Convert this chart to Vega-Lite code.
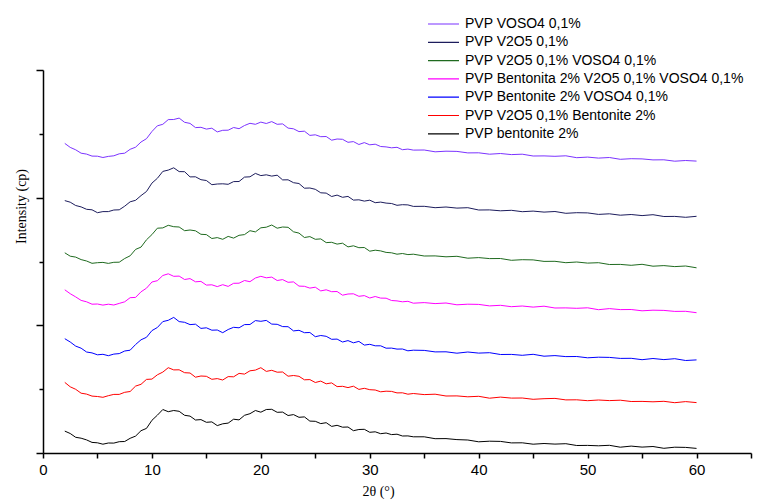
{
"$schema": "https://vega.github.io/schema/vega-lite/v6.json",
"width": 708,
"height": 383,
"autosize": {"type": "none"},
"padding": {"left": 43, "top": 70, "right": 10, "bottom": 49},
"background": "white",
"config": {"view": {"stroke": null}, "axis": {"grid": false}},
"data": {"values": [
{"x":2,"a":309.6,"b":252.4,"c":200.2,"d":163.2,"e":114.3,"f":70.6,"g":21.9},
{"x":2.5,"a":305.6,"b":250.8,"c":196.8,"d":159.3,"e":111,"f":66.2,"g":19.5},
{"x":3,"a":303.2,"b":247.5,"c":195.9,"d":156.1,"e":106.9,"f":63.7,"g":15.7},
{"x":3.5,"a":299.8,"b":246.1,"c":193.4,"d":152.6,"e":104.8,"f":59.8,"g":14.8},
{"x":4,"a":298.9,"b":243.7,"c":192,"d":151.2,"e":101,"f":58.9,"g":13.1},
{"x":4.5,"a":296.9,"b":243.2,"c":189.7,"d":148.8,"e":100.1,"f":56.9,"g":10.6},
{"x":5,"a":296.8,"b":240.3,"c":190.3,"d":149,"e":98.2,"f":56.5,"g":10.2},
{"x":5.5,"a":295.5,"b":241.4,"c":190.6,"d":147.9,"e":98.7,"f":55.7,"g":8.8},
{"x":6,"a":296.6,"b":241.4,"c":189.6,"d":148.8,"e":97.3,"f":57.3,"g":10},
{"x":6.5,"a":297.2,"b":243,"c":190.7,"d":148,"e":98.9,"f":58.6,"g":9.9},
{"x":7,"a":299.2,"b":243.2,"c":190.8,"d":149.6,"e":99.4,"f":58.6,"g":11.3},
{"x":7.5,"a":299.8,"b":246.8,"c":194.5,"d":151.2,"e":102,"f":60.7,"g":11.5},
{"x":8,"a":303.7,"b":251.2,"c":197.2,"d":155.3,"e":102.8,"f":61.5,"g":14.7},
{"x":8.5,"a":305.8,"b":252.7,"c":203.6,"d":155.6,"e":108.5,"f":66.9,"g":16.9},
{"x":9,"a":311,"b":257.4,"c":205.9,"d":161.2,"e":113.2,"f":68.7,"g":22.3},
{"x":9.5,"a":314.3,"b":261.5,"c":213.2,"d":164.8,"e":115.7,"f":73.6,"g":24.6},
{"x":10,"a":321.5,"b":269.9,"c":218.4,"d":171,"e":122.4,"f":73.9,"g":32.7},
{"x":10.5,"a":327.2,"b":274.7,"c":224.8,"d":172.3,"e":125.5,"f":78.2,"g":37.8},
{"x":11,"a":328.7,"b":281.6,"c":225.1,"d":177.5,"e":131.4,"f":80.9,"g":43.5},
{"x":11.5,"a":333.4,"b":282.9,"c":227.7,"d":179.2,"e":132.7,"f":85.3,"g":41.3},
{"x":12,"a":333.5,"b":285.2,"c":226.3,"d":176.7,"e":135.6,"f":83.1,"g":42.5},
{"x":12.5,"a":334.9,"b":281.4,"c":226,"d":176.9,"e":131.4,"f":83.2,"g":41.7},
{"x":13,"a":330.7,"b":281.3,"c":222.3,"d":173.5,"e":130.7,"f":80.3,"g":37.7},
{"x":13.5,"a":329.6,"b":276.1,"c":223,"d":174.4,"e":128.4,"f":80,"g":36.9},
{"x":14,"a":325.4,"b":276.2,"c":222.2,"d":171.2,"e":128.8,"f":75.8,"g":33},
{"x":14.5,"a":325.7,"b":273.3,"c":218.7,"d":171.6,"e":124.6,"f":77,"g":33.4},
{"x":15,"a":323.9,"b":272.5,"c":218.4,"d":167.9,"e":125.2,"f":76.7,"g":30.7},
{"x":15.5,"a":324.8,"b":268.3,"c":214.5,"d":168.2,"e":122.8,"f":73.7,"g":31.1},
{"x":16,"a":321.1,"b":269,"c":215.4,"d":166.4,"e":123,"f":74.4,"g":27.4},
{"x":16.5,"a":322.7,"b":269.2,"c":213.7,"d":168.3,"e":120.3,"f":73,"g":29.2},
{"x":17,"a":322.8,"b":268.7,"c":216.6,"d":166.6,"e":123.5,"f":76.4,"g":29.9},
{"x":17.5,"a":325.5,"b":271.4,"c":214.9,"d":169.7,"e":125.7,"f":76.2,"g":33.8},
{"x":18,"a":324.3,"b":271.5,"c":217.7,"d":169.8,"e":125.2,"f":79.6,"g":33.1},
{"x":18.5,"a":327.5,"b":275.9,"c":218.4,"d":172.5,"e":128.4,"f":78.9,"g":37.7},
{"x":19,"a":329.7,"b":276.2,"c":222.3,"d":171.3,"e":128.5,"f":82.2,"g":39.3},
{"x":19.5,"a":328.7,"b":279.6,"c":221.1,"d":175,"e":132.4,"f":82.9,"g":42.5},
{"x":20,"a":330.9,"b":277.4,"c":225.2,"d":176.7,"e":131.7,"f":85.3,"g":40.8},
{"x":20.5,"a":329.5,"b":278.2,"c":225.8,"d":175.2,"e":132.6,"f":81.6,"g":43.5},
{"x":21,"a":331.4,"b":276.9,"c":228,"d":175.9,"e":128.9,"f":82.7,"g":43.7},
{"x":21.5,"a":328.7,"b":277.8,"c":224.8,"d":172.5,"e":128.7,"f":80.8,"g":40.7},
{"x":22,"a":329.1,"b":273.1,"c":226,"d":173.4,"e":126.4,"f":81,"g":40.9},
{"x":22.5,"a":324.9,"b":273.2,"c":225.7,"d":170.7,"e":126.3,"f":76.8,"g":37.5},
{"x":23,"a":324.2,"b":270.3,"c":221.2,"d":171.1,"e":122.1,"f":77.5,"g":38.4},
{"x":23.5,"a":321.4,"b":269.5,"c":219.9,"d":166.9,"e":122.7,"f":76.7,"g":35.7},
{"x":24,"a":321.8,"b":264.8,"c":215.5,"d":166.7,"e":120.3,"f":73.2,"g":36.1},
{"x":24.5,"a":317.6,"b":265,"c":216.4,"d":164.9,"e":120.5,"f":73.4,"g":31.9},
{"x":25,"a":318.2,"b":263.7,"c":213.7,"d":165.8,"e":116.3,"f":70.5,"g":31.7},
{"x":25.5,"a":316.3,"b":260.2,"c":214.1,"d":162.1,"e":117.5,"f":71.9,"g":29.4},
{"x":26,"a":316.5,"b":259.9,"c":210.4,"d":163.2,"e":116.7,"f":69.2,"g":30.3},
{"x":26.5,"a":312.8,"b":256.5,"c":210.7,"d":161.3,"e":113.7,"f":70.1,"g":26.6},
{"x":27,"a":314,"b":257.9,"c":208.9,"d":161.5,"e":113.9,"f":66.4,"g":27.7},
{"x":27.5,"a":313.7,"b":255.7,"c":209.8,"d":157.8,"e":111,"f":66.7,"g":25.8},
{"x":28,"a":310.7,"b":256.6,"c":206.1,"d":159,"e":112.4,"f":65.4,"g":26},
{"x":28.5,"a":311.4,"b":252.9,"c":207.2,"d":159.2,"e":110.2,"f":66.8,"g":22.3},
{"x":29,"a":308.5,"b":253.2,"c":205.3,"d":156.7,"e":111.6,"f":63.6,"g":23.5},
{"x":29.5,"a":310.4,"b":251.9,"c":205.5,"d":157.4,"e":107.9,"f":64.7,"g":23.7},
{"x":30,"a":308.2,"b":252.8,"c":201.8,"d":155,"e":108.7,"f":63.3,"g":20.7},
{"x":30.5,"a":308.8,"b":250.3,"c":202.8,"d":156.5,"e":107.2,"f":63,"g":21.2},
{"x":31,"a":306.5,"b":250.9,"c":202.1,"d":154.9,"e":107.2,"f":61.2,"g":19.3},
{"x":31.5,"a":306.1,"b":249.9,"c":200.6,"d":154.8,"e":104.8,"f":61.8,"g":20},
{"x":32,"a":305.2,"b":249.5,"c":200.2,"d":152.5,"e":104.9,"f":61.6,"g":18.4},
{"x":32.5,"a":305.7,"b":247.7,"c":198.8,"d":152.1,"e":103.9,"f":60.1,"g":18.8},
{"x":33,"a":303.3,"b":248.3,"c":199.5,"d":151.2,"e":104,"f":60.2,"g":17},
{"x":33.5,"a":303.9,"b":248.1,"c":198.4,"d":151.7,"e":102.2,"f":58.8,"g":17.1},
{"x":34,"a":302.9,"b":246.6,"c":198.8,"d":149.8,"e":102.8,"f":59.5,"g":16.2},
{"x":35,"a":303,"b":246.7,"c":197,"d":150.4,"e":102.6,"f":58.4,"g":16.2},
{"x":36,"a":301.2,"b":245.3,"c":197.1,"d":149.4,"e":101.1,"f":58.8,"g":14.3},
{"x":37,"a":301.8,"b":246,"c":196.2,"d":150,"e":101.2,"f":57,"g":14.4},
{"x":38,"a":301.6,"b":244.9,"c":196.7,"d":148.2,"e":99.8,"f":57.1,"g":13.4},
{"x":39,"a":300.1,"b":245.3,"c":194.8,"d":148.8,"e":101,"f":56.2,"g":13},
{"x":40,"a":300.2,"b":243,"c":195.4,"d":148.6,"e":99.9,"f":56.7,"g":11.2},
{"x":41,"a":298.8,"b":243.1,"c":194.4,"d":147.1,"e":100.3,"f":54.8,"g":11.8},
{"x":42,"a":299.5,"b":242.2,"c":194.5,"d":147.7,"e":98.5,"f":55.9,"g":11.6},
{"x":43,"a":298.4,"b":242.7,"c":192.7,"d":146.3,"e":98.6,"f":54.9,"g":10.1},
{"x":44,"a":298.8,"b":241.3,"c":193.3,"d":147,"e":97.7,"f":55,"g":10.2},
{"x":45,"a":297,"b":241.9,"c":193.1,"d":145.9,"e":98.7,"f":53.7,"g":8.8},
{"x":46,"a":297.1,"b":240.9,"c":191.6,"d":146.8,"e":96.8,"f":54.3,"g":9.5},
{"x":47,"a":296.7,"b":241.5,"c":191.7,"d":145,"e":97.4,"f":54.6,"g":8.9},
{"x":48,"a":297.2,"b":239.7,"c":190.3,"d":145.1,"e":96.4,"f":53.1,"g":9.3},
{"x":49,"a":295.3,"b":240.3,"c":191,"d":144.7,"e":96.5,"f":53.2,"g":7.5},
{"x":50,"a":295.9,"b":240.1,"c":189.9,"d":145.2,"e":95.2,"f":52.3,"g":7.6},
{"x":51,"a":294.9,"b":238.6,"c":190.3,"d":143.3,"e":95.8,"f":53,"g":7.2},
{"x":52,"a":295.5,"b":239.2,"c":188.5,"d":144.4,"e":95.6,"f":52.4,"g":7.7},
{"x":53,"a":293.7,"b":237.8,"c":188.6,"d":143.4,"e":94.6,"f":52.8,"g":5.8},
{"x":54,"a":294.3,"b":238.5,"c":187.7,"d":143.5,"e":94.7,"f":51.5,"g":6.9},
{"x":55,"a":294.1,"b":237.4,"c":188.7,"d":142.2,"e":93.3,"f":51.6,"g":5.9},
{"x":56,"a":293.1,"b":238.3,"c":186.8,"d":142.8,"e":94.5,"f":51.2,"g":6.5},
{"x":57,"a":293.2,"b":236.5,"c":187.4,"d":142.6,"e":93.4,"f":51.7,"g":4.7},
{"x":58,"a":291.8,"b":236.6,"c":186.4,"d":141.6,"e":94.3,"f":50.3,"g":5.8},
{"x":59,"a":292.5,"b":235.7,"c":187,"d":141.7,"e":92.5,"f":51.4,"g":5.6},
{"x":60,"a":291.9,"b":236.7,"c":185.2,"d":140.3,"e":93.1,"f":50.4,"g":4.6}
]},
"transform": [{"fold": ["a","b","c","d","e","f","g"], "as": ["series","intensity"]}],
"mark": {"type": "line", "strokeWidth": 1},
"encoding": {
  "x": {"field": "x", "type": "quantitative",
    "scale": {"domain": [0, 65], "nice": false, "zero": false},
    "axis": {"title": "2θ (°)", "values": [0,5,10,15,20,25,30,35,40,45,50,55,60,65],
      "labelExpr": "datum.value % 10 === 0 && datum.value <= 60 ? datum.label : ''",
      "tickSize": 5, "tickWidth": 1.5, "tickColor": "black", "domainColor": "black", "domainWidth": 1.5,
      "labelFont": "Liberation Sans", "labelFontSize": 15, "labelColor": "black", "labelPadding": 4, "labelFlush": false,
      "titleFont": "Liberation Serif", "titleFontSize": 14, "titleFontWeight": "normal", "titleColor": "black",
      "titleX": 335, "titleY": 38, "titleBaseline": "middle", "titleAlign": "center"}},
  "y": {"field": "intensity", "type": "quantitative",
    "scale": {"domain": [0, 383], "nice": false, "zero": false},
    "axis": {"title": "Intensity (cp)", "values": [0,63.83,127.67,191.5,255.33,319.17,383], "labels": false,
      "tickSize": {"condition": {"test": "datum.value === 0 || datum.value === 127.67 || datum.value === 255.33 || datum.value === 383", "value": 7}, "value": 4},
      "tickWidth": 1.5, "tickColor": "black", "domainColor": "black", "domainWidth": 1.5,
      "titleFont": "Liberation Serif", "titleFontSize": 14, "titleFontWeight": "normal", "titleColor": "black",
      "titleAngle": -90, "titleX": -22, "titleY": 136, "titleBaseline": "middle", "titleAlign": "center"}},
  "color": {"field": "series", "type": "nominal",
    "scale": {"domain": ["a","b","c","d","e","f","g"],
      "range": ["#7b33ff","#1c1c5c","#1f6a1f","#ff00ff","#0000ff","#ff0000","#000000"]},
    "legend": {"orient": "none", "legendX": 384, "legendY": -55, "title": null,
      "symbolType": "stroke", "symbolSize": 961, "symbolStrokeWidth": 1.2,
      "labelFont": "Liberation Sans", "labelFontSize": 14, "labelColor": "black", "labelOffset": 5, "labelLimit": 400,
      "clipHeight": 18, "rowPadding": 0.3, "padding": 0,
      "labelExpr": "{'a':'PVP VOSO4 0,1%','b':'PVP V2O5 0,1%','c':'PVP V2O5 0,1% VOSO4 0,1%','d':'PVP Bentonita 2% V2O5 0,1% VOSO4 0,1%','e':'PVP Bentonite 2% VOSO4 0,1%','f':'PVP V2O5 0,1% Bentonite 2%','g':'PVP bentonite 2%'}[datum.label]"}}
}
}
